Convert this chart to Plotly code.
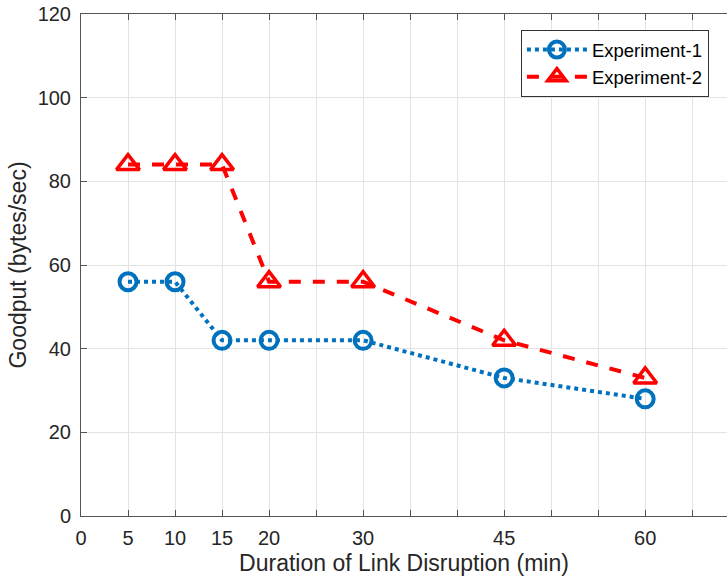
import plotly.graph_objects as go

durations = [5, 10, 15, 20, 30, 45, 60]
exp1 = [56, 56, 42, 42, 42, 33, 28]
exp2 = [84, 84, 84, 56, 56, 42, 33]
xtick_vals = [0, 5, 10, 15, 20, 30, 45, 60]
xtick_text = ["0", "5", "10", "15", "20", "30", "45", "60"]
ytick_vals = [0, 20, 40, 60, 80, 100, 120]

fig = go.Figure()
fig.add_trace(go.Scatter(
    x=durations, y=exp1, name="Experiment-1", mode="lines+markers",
    line=dict(color="#0072BD", width=4, dash="dot"),
    marker=dict(symbol="circle-open", size=17, color="#0072BD", line=dict(width=4, color="#0072BD")),
))
fig.add_trace(go.Scatter(
    x=durations, y=exp2, name="Experiment-2", mode="lines+markers",
    line=dict(color="#FF0000", width=4, dash="dash"),
    marker=dict(symbol="triangle-up-open", size=20, color="#FF0000", line=dict(width=3.5, color="#FF0000")),
))

axis_color = "#555555"
fig.update_layout(
    width=727, height=579,
    margin=dict(l=81, r=0, t=14, b=63),
    paper_bgcolor="white", plot_bgcolor="white",
    font=dict(family="Liberation Sans, Arial, sans-serif", color="#262626"),
    showlegend=True,
    legend=dict(
        x=0.681, y=0.968, xanchor="left", yanchor="top",
        bgcolor="white", bordercolor="#333333", borderwidth=1,
        font=dict(size=18.5, color="#000000"),
        tracegroupgap=0, itemwidth=60,
    ),
    xaxis=dict(
        range=[0, 68.7], tickmode="array", tickvals=xtick_vals, ticktext=xtick_text,
        ticks="inside", ticklen=6, tickcolor=axis_color,
        showgrid=True, gridcolor="#e3e3e3", gridwidth=1,
        minor=dict(dtick=5, tick0=0, showgrid=True, gridcolor="#e3e3e3", ticks="inside", ticklen=6, tickcolor=axis_color),
        showline=True, linecolor=axis_color, linewidth=1, mirror="ticks",
        zeroline=False,
        tickfont=dict(size=20), ticklabelstandoff=4,
        title=dict(text="Duration of Link Disruption (min)", font=dict(size=23), standoff=6),
    ),
    yaxis=dict(
        range=[0, 120], tickmode="array", tickvals=ytick_vals,
        ticks="inside", ticklen=6, tickcolor=axis_color,
        showgrid=True, gridcolor="#e3e3e3", gridwidth=1,
        showline=True, linecolor=axis_color, linewidth=1,
        zeroline=False,
        tickfont=dict(size=20), ticklabelstandoff=5,
        title=dict(text="Goodput (bytes/sec)", font=dict(size=23), standoff=4),
    ),
)

fig.write_html("out.html")
